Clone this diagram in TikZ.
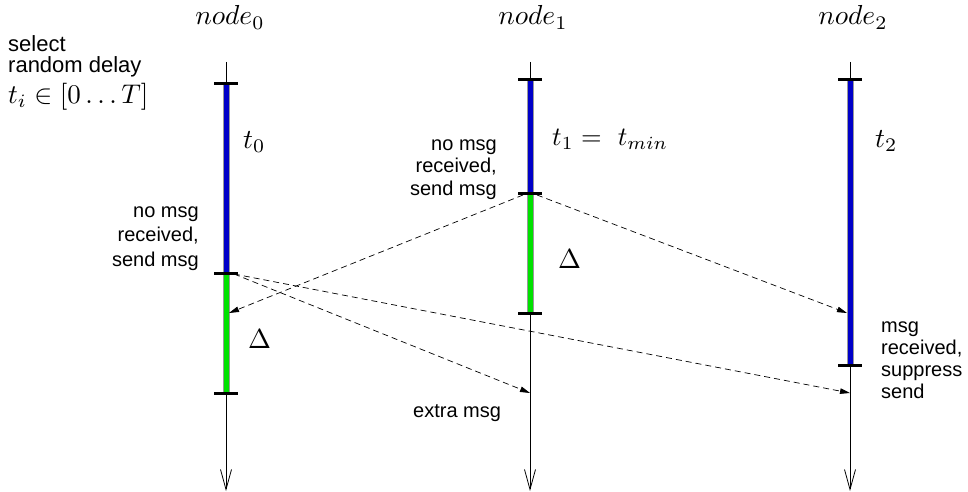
\documentclass[tikz,border=0pt]{standalone}
\usepackage{fontspec}
\setsansfont{Liberation Sans}
\usetikzlibrary{arrows.meta}
\definecolor{barblue}{RGB}{0,0,200}
\definecolor{bargreen}{RGB}{0,225,0}
\newcommand{\bigmath}[2][2.75]{\scalebox{#1}{$#2$}}
\tikzset{
  timeline/.style={line width=0.8pt, -{Straight Barb[length=20pt,width=11pt,line width=0.8pt]}},
  tickmark/.style={line width=3pt},
  bluebar/.style={fill=barblue, draw=gray!80, line width=0.6pt},
  greenbar/.style={fill=bargreen, draw=gray!80, line width=0.6pt},
  msgarrow/.style={dash pattern=on 6pt off 4pt, line width=0.7pt, -{Triangle[length=10pt,width=5.5pt]}},
  lbl/.style={font=\sffamily\fontsize{20}{24}\selectfont, inner sep=0pt},
  mth/.style={font=\fontsize{10}{12}\selectfont, inner sep=0pt},
}
\begin{document}
\begin{tikzpicture}[x=1pt,y=-1pt]
\useasboundingbox (0,0) rectangle (968,492);
% timeline coordinates
\coordinate (n0top) at (226,62);  \coordinate (n0a) at (226,84);  \coordinate (n0b) at (226,273); \coordinate (n0c) at (226,393); \coordinate (n0bot) at (226,491);
\coordinate (n1top) at (530,62);  \coordinate (n1a) at (530,80);  \coordinate (n1b) at (530,193); \coordinate (n1c) at (530,313); \coordinate (n1bot) at (530,491);
\coordinate (n2top) at (850,62);  \coordinate (n2a) at (850,80);  \coordinate (n2b) at (850,365); \coordinate (n2bot) at (850,491);
% thin time lines
\draw[timeline] (n0top) -- (n0bot);
\draw[timeline] (n1top) -- (n1bot);
\draw[timeline] (n2top) -- (n2bot);
% bars
\draw[bluebar]  ([xshift=-3pt]n0a) rectangle ([xshift=3pt]n0b);
\draw[greenbar] ([xshift=-3pt]n0b) rectangle ([xshift=3pt]n0c);
\draw[bluebar]  ([xshift=-3pt]n1a) rectangle ([xshift=3pt]n1b);
\draw[greenbar] ([xshift=-3pt]n1b) rectangle ([xshift=3pt]n1c);
\draw[bluebar]  ([xshift=-3pt]n2a) rectangle ([xshift=3pt]n2b);
% ticks
\foreach \p in {n0a,n0b,n0c,n1a,n1b,n1c,n2a,n2b}
  \draw[tickmark] ([xshift=-12pt]\p) -- ([xshift=12pt]\p);
% message end points
\coordinate (s1L) at (523,195);
\coordinate (s1R) at (537,195);
\coordinate (s0R) at (234,274);
\coordinate (r0) at (229,313);
\coordinate (r2) at (847,313);
\coordinate (x1) at (530,393);
\coordinate (x2) at (850,393);
\draw[msgarrow] (s1L) -- (r0);
\draw[msgarrow] (s1R) -- (r2);
\draw[msgarrow] (s0R) -- (x1);
\draw[msgarrow] (s0R) -- (x2);
% headers
\node[mth, anchor=base] (h0) at (230,25) {\bigmath{node_0}};
\node[mth, anchor=base] (h1) at (533,25) {\bigmath{node_1}};
\node[mth, anchor=base] (h2) at (853,25) {\bigmath{node_2}};
% left note
\node[lbl, font=\sffamily\fontsize{22}{24}\selectfont, anchor=base west] (sel1) at (8,52) {select};
\node[lbl, font=\sffamily\fontsize{22}{24}\selectfont, anchor=base west] (sel2) at (8,73) {random delay};
\node[mth, anchor=base west] (sel3) at (8,103) {\bigmath[2.7]{t_i \in [0\ldots T]}};
% time labels
\node[mth, anchor=base west] (t0) at (243,148) {\bigmath{t_0}};
\node[mth, anchor=base west] (t1) at (552,146) {\bigmath[2.65]{t_1 =\ t_{min}}};
\node[mth, anchor=base west] (t2) at (875,147) {\bigmath{t_2}};
\node[mth, anchor=base west] (d0) at (248,348) {\bigmath{\Delta}};
\node[mth, anchor=base west] (d1) at (558,268) {\bigmath{\Delta}};
% notes (base anchor = baseline of last line)
\node[lbl, font=\sffamily\fontsize{20}{24.5}\selectfont, align=right, anchor=base east] (m0) at (199,266) {no msg\\received,\\send msg};
\node[lbl, font=\sffamily\fontsize{20}{22.5}\selectfont, align=right, anchor=base east] (m1) at (497,195) {no msg\\received,\\send msg};
\node[lbl, font=\sffamily\fontsize{20}{21.7}\selectfont, align=left, anchor=base west] (m2) at (881,398) {msg\\received,\\suppress\\send};
\node[lbl, anchor=base west] (ex) at (413,417) {extra msg};
\end{tikzpicture}
\end{document}
